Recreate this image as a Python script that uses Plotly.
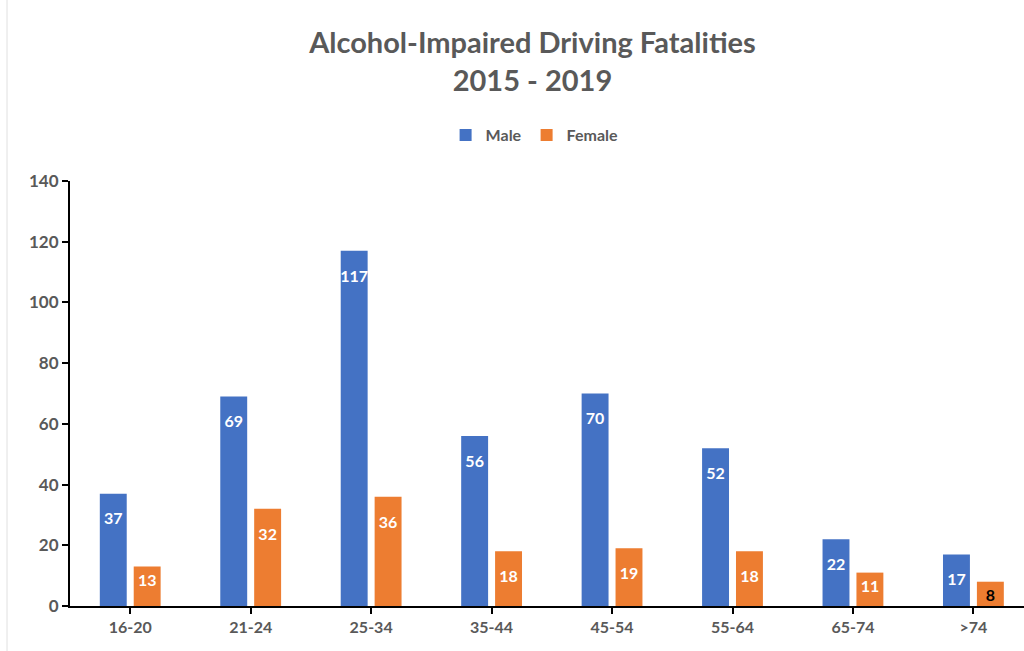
import plotly.graph_objects as go

# Data
age_groups = ['16-20', '21-24', '25-34', '35-44', '45-54', '55-64', '65-74', '>74']
male = [37, 69, 117, 56, 70, 52, 22, 17]
female = [13, 32, 36, 18, 19, 18, 11, 8]

COLORS = {
    'male': '#4472C4',
    'female': '#ED7D31',
    'text': '#595959',
    'axis': '#000000',
}
FONT = 'Lato, Calibri, Arial, sans-serif'

# small spacer line above the value so the labels sit a bit below the bar top;
# short bars keep the plain label so it still fits inside
PADDED = '<span style="font-size:7px"> </span><br>%{y}'


def label_templates(values):
    return [PADDED if v >= 15 else '%{y}' for v in values]


fig = go.Figure()

fig.add_trace(go.Bar(
    x=age_groups, y=male, name='Male',
    marker=dict(color=COLORS['male'], line=dict(width=0)),
    texttemplate=label_templates(male), textposition='inside', insidetextanchor='end',
    textangle=0, constraintext='none',
    textfont=dict(color='white', size=16, family=FONT, weight='bold'),
))
fig.add_trace(go.Bar(
    x=age_groups, y=female, name='Female',
    marker=dict(color=COLORS['female'], line=dict(width=0)),
    texttemplate=label_templates(female),
    textposition='inside', insidetextanchor='end',
    textangle=0, constraintext='none',
    # last label sits in black on the short bar
    textfont=dict(color=['white'] * (len(female) - 1) + ['black'], size=16,
                  family=FONT, weight='bold'),
))

fig.update_layout(
    width=1024, height=651,
    title=dict(
        text='<b>Alcohol-Impaired Driving Fatalities<br>2015 - 2019</b>',
        x=0.52, xanchor='center', y=0.918, yanchor='top',
        font=dict(family=FONT, size=29, color=COLORS['text']),
    ),
    legend=dict(
        orientation='h', x=0.487, xanchor='center', y=1.108, yanchor='middle',
        font=dict(family=FONT, size=16, color=COLORS['text'], weight='bold'),
        itemwidth=30, traceorder='normal',
    ),
    barmode='group', bargap=0.437, bargroupgap=0.206,
    plot_bgcolor='white', paper_bgcolor='white',
    margin=dict(l=70, r=0, t=181, b=45, autoexpand=False),
    font=dict(family=FONT, color=COLORS['text']),
    showlegend=True,
)

fig.update_xaxes(
    range=[-0.5, 7.42], automargin=False,
    showline=True, linecolor=COLORS['axis'], linewidth=2,
    ticks='outside', ticklen=6, tickcolor=COLORS['axis'], tickwidth=2,
    tickfont=dict(family=FONT, size=16, color=COLORS['text'], weight='bold'),
    showgrid=False,
)
fig.update_yaxes(
    range=[0, 140], dtick=20, automargin=False,
    showline=True, linecolor=COLORS['axis'], linewidth=2,
    ticks='outside', ticklen=6, tickcolor=COLORS['axis'], tickwidth=2,
    tickfont=dict(family=FONT, size=17, color=COLORS['text'], weight='bold'),
    showgrid=False, zeroline=False,
)

# faint border line on the left edge of the picture
fig.add_shape(type='line', xref='paper', yref='paper',
              x0=-63 / 954, x1=-63 / 954, y0=-45 / 425, y1=1 + 181 / 425,
              line=dict(color='#E0E0E0', width=1))

# drop the browser's default body margin so the figure sits at the window corner
fig.write_html('out.html', config={'displayModeBar': False},
               post_script="document.body.style.margin='0';")
